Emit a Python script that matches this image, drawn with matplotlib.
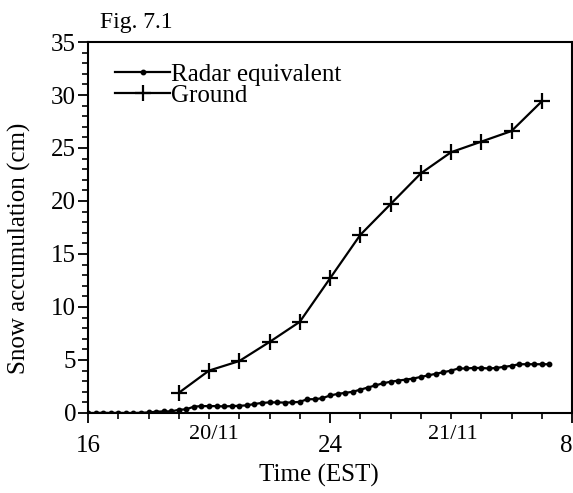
import numpy as np
import matplotlib
matplotlib.use('Agg')
import matplotlib.pyplot as plt
from matplotlib.ticker import MultipleLocator, FixedLocator
import matplotlib.transforms as mtransforms

# hours after 16:00 EST on 20/11
radar_hours = np.arange(0, 15.26, 0.25)
radar_cm = [0.0, 0.0, 0.02, 0.0, 0.01, 0.0, 0.0, 0.02, 0.05,
            0.12, 0.15, 0.15, 0.3, 0.35, 0.6, 0.65, 0.65, 0.65, 0.62, 0.65,
            0.68, 0.72, 0.85, 0.95, 1.0, 1.0, 0.98, 1.0, 1.05, 1.3, 1.3, 1.4,
            1.65, 1.8, 1.9, 2.0, 2.2, 2.4, 2.6, 2.8, 2.95, 3.05, 3.15, 3.25,
            3.4, 3.55, 3.7, 3.85, 4.0, 4.2, 4.2, 4.25, 4.25, 4.2, 4.25, 4.35,
            4.45, 4.6, 4.6, 4.6, 4.6, 4.6]
ground_hours = [3, 4, 5, 6, 7, 8, 9, 10, 11, 12, 13, 14, 15]
ground_cm = [1.9, 4.0, 4.9, 6.7, 8.6, 12.7, 16.8, 19.7, 22.6, 24.6, 25.6, 26.6, 29.4]

tick_pos = [0, 8, 16]
tick_lab = ['16', '24', '8']
date_pos = [4.15, 12.05]
date_lab = ['20/11', '21/11']

plt.rcParams['font.family'] = ['Liberation Serif', 'DejaVu Serif']

fig = plt.figure(figsize=(5.73, 4.93), dpi=100)
ax = fig.add_axes([0.1536, 0.1623, 0.8447, 0.7525])

ax.plot(radar_hours, radar_cm, '-o', color='k', lw=1.6, ms=3.2,
        label='Radar equivalent')
ax.plot(ground_hours, ground_cm, '-+', color='k', lw=1.6, ms=11, mew=1.6,
        label='Ground')

ax.set_xlim(0, 16)
ax.set_ylim(0, 35)
ax.xaxis.set_major_locator(FixedLocator(tick_pos))
ax.set_xticklabels(tick_lab)
ax.get_xticklabels()[-1].set_horizontalalignment('right')
ax.xaxis.set_minor_locator(MultipleLocator(1))
ax.yaxis.set_major_locator(MultipleLocator(5))
ax.yaxis.set_minor_locator(MultipleLocator(1))
ax.tick_params(which='major', direction='out', length=7, width=1.3,
               labelsize=18, colors='k')
ax.tick_params(which='minor', direction='out', length=4, width=1.2)
ax.tick_params(axis='x', which='major', pad=9)
ax.tick_params(axis='y', which='major', pad=1.5)
for s in ax.spines.values():
    s.set_linewidth(1.5)

trans = mtransforms.blended_transform_factory(ax.transData, ax.transAxes)
for p, l in zip(date_pos, date_lab):
    ax.text(p, -0.032, l, transform=trans, ha='center', va='top', fontsize=16)

ax.set_xlabel('Time (EST)', fontsize=18)
ax.xaxis.set_label_coords(0.478, -0.137)
ax.set_ylabel('Snow accumulation (cm)', fontsize=18)
ax.yaxis.set_label_coords(-0.118, 0.445)

ax.legend(loc='upper left', frameon=False, numpoints=1, fontsize=18,
          handlelength=2.2, handletextpad=0.05, labelspacing=-0.05,
          borderaxespad=0.3, bbox_to_anchor=(0.02, 0.99))

fig.text(0.175, 0.955, 'Fig. 7.1', fontsize=17, va='center')

fig.savefig('out.png', dpi=100)
